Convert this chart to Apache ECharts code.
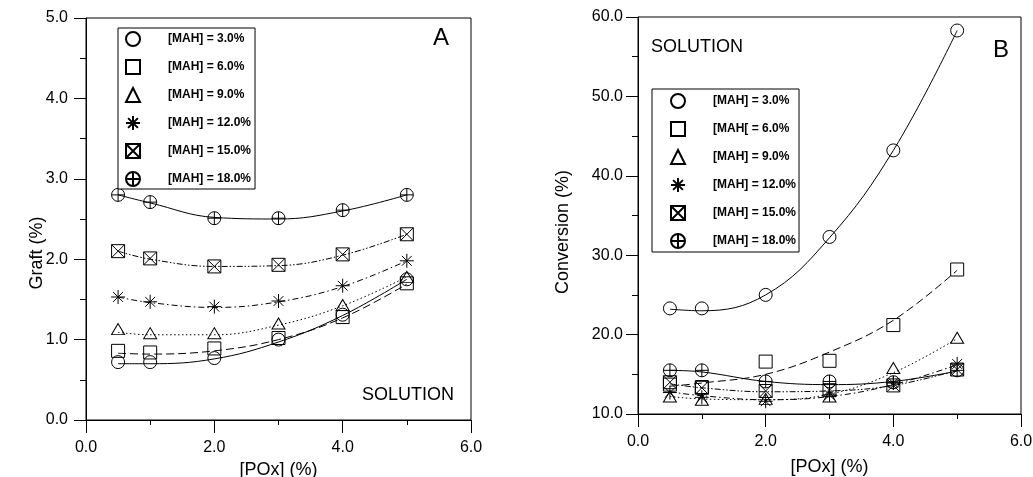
<!DOCTYPE html>
<html>
<head>
<meta charset="utf-8">
<script src="https://cdn.jsdelivr.net/npm/echarts@6/dist/echarts.min.js"></script>
<style>html,body{margin:0;padding:0;background:#fff;}#c{width:1033px;height:477px;}</style>
</head>
<body>
<div id="c"></div>
<script>
// ---- data ----
const poxValues = [0.5, 1, 2, 3, 4, 5];
const namesA = ['[MAH] = 3.0%', '[MAH] = 6.0%', '[MAH] = 9.0%', '[MAH] = 12.0%', '[MAH] = 15.0%', '[MAH] = 18.0%'];
const namesB = ['[MAH] = 3.0%', '[MAH[ = 6.0%', '[MAH] = 9.0%', '[MAH] = 12.0%', '[MAH] = 15.0%', '[MAH] = 18.0%'];

// Panel A: Graft (%) markers
const graft3  = [0.72, 0.72, 0.77, 1.00, 1.31, 1.75];
const graft6  = [0.86, 0.84, 0.89, 1.02, 1.28, 1.70];
const graft9  = [1.13, 1.08, 1.08, 1.20, 1.43, 1.78];
const graft12 = [1.53, 1.47, 1.41, 1.48, 1.67, 1.98];
const graft15 = [2.10, 2.01, 1.91, 1.93, 2.06, 2.31];
const graft18 = [2.80, 2.71, 2.51, 2.51, 2.61, 2.80];
// Panel A: fitted curves
const graftCurve3  = [0.70, 0.70, 0.76, 0.97, 1.30, 1.75];
const graftCurve6  = [0.83, 0.82, 0.86, 1.00, 1.27, 1.69];
const graftCurve9  = [1.09, 1.06, 1.06, 1.18, 1.42, 1.78];
const graftCurve12 = [1.53, 1.46, 1.40, 1.47, 1.66, 1.98];
const graftCurve15 = [2.10, 2.00, 1.91, 1.92, 2.05, 2.31];
const graftCurve18 = [2.80, 2.70, 2.52, 2.50, 2.60, 2.80];

// Panel B: Conversion (%) markers
const conv3  = [23.3, 23.3, 25.0, 32.3, 43.2, 58.3];
const conv6  = [13.7, 13.4, 16.6, 16.7, 21.2, 28.2];
const conv9  = [12.2, 11.8, 11.9, 12.2, 15.8, 19.6];
const conv12 = [12.7, 12.1, 11.6, 12.4, 13.9, 16.3];
const conv15 = [14.0, 13.3, 12.9, 13.0, 13.6, 15.6];
const conv18 = [15.5, 15.5, 14.1, 14.1, 14.0, 15.5];
// Panel B: fitted curves
const convCurve3  = [23.2, 23.0, 25.0, 32.2, 43.2, 58.3];
const convCurve6  = [13.5, 13.9, 15.0, 17.8, 21.8, 28.1];
const convCurve9  = [12.2, 11.9, 11.8, 12.5, 15.2, 19.5];
const convCurve12 = [12.8, 12.3, 11.8, 12.2, 13.7, 16.2];
const convCurve15 = [13.8, 13.3, 12.8, 12.9, 13.6, 15.5];
const convCurve18 = [15.5, 15.3, 14.1, 13.7, 14.1, 15.4];

const xTicks = [0, 2, 4, 6];
const graftTicks = [0, 1, 2, 3, 4, 5];
const convTicks = [10, 20, 30, 40, 50, 60];

// ---- styles ----
const FONT = "'Liberation Sans', Arial, sans-serif";
const symbols = [
  'circle',
  'rect',
  'triangle',
  'path://M5,0 L5,10 M0,5 L10,5 M1.5,1.5 L8.5,8.5 M8.5,1.5 L1.5,8.5',
  'path://M0,0 L10,0 L10,10 L0,10 Z M0,0 L10,10 M10,0 L0,10',
  'path://M0,5 A5,5 0 1,1 10,5 A5,5 0 1,1 0,5 Z M5,0 L5,10 M0,5 L10,5'
];
const symSizes = [13, 13, [13, 11], 14, 13, 13];
const lineTypes = ['solid', [8, 4], [1.5, 2.5], [6, 3, 1.5, 3], [6, 2, 1.5, 2, 1.5, 2], 'solid'];

const graftPts = [graft3, graft6, graft9, graft12, graft15, graft18];
const graftCurves = [graftCurve3, graftCurve6, graftCurve9, graftCurve12, graftCurve15, graftCurve18];
const convPts = [conv3, conv6, conv9, conv12, conv15, conv18];
const convCurves = [convCurve3, convCurve6, convCurve9, convCurve12, convCurve15, convCurve18];

function pairs(ys) { return poxValues.map((x, i) => [x, ys[i]]); }

const series = [];
function addPanel(idx, pts, curves, names) {
  for (let k = 0; k < 6; k++) {
    series.push({
      type: 'line', name: 'curve' + idx + '_' + k, xAxisIndex: idx, yAxisIndex: idx,
      data: pairs(curves[k]), smooth: 0.4, showSymbol: false, symbol: 'none', silent: true,
      lineStyle: { color: '#000', width: 1, type: lineTypes[k] }, z: 2
    });
  }
  for (let k = 0; k < 6; k++) {
    series.push({
      type: 'scatter', name: names[k], xAxisIndex: idx, yAxisIndex: idx,
      data: pairs(pts[k]), symbol: symbols[k], symbolSize: symSizes[k],
      itemStyle: { color: 'rgba(255,255,255,0)', borderColor: '#000', borderWidth: 1, opacity: 1 },
      z: 3
    });
  }
}
addPanel(0, graftPts, graftCurves, namesA);
addPanel(1, convPts, convCurves, namesB);

function xAxisCfg(gi, nameGap) {
  return {
    type: 'value', gridIndex: gi, min: xTicks[0], max: xTicks[xTicks.length - 1], interval: 2,
    name: '[POx] (%)', nameLocation: 'middle', nameGap: nameGap,
    nameTextStyle: { fontFamily: FONT, fontSize: 18, color: '#000' },
    axisLine: { show: true, onZero: false, lineStyle: { color: '#000', width: 1 } },
    axisTick: { show: true, inside: false, length: 13, lineStyle: { color: '#000' } },
    minorTick: { show: true, splitNumber: 2, length: 5, lineStyle: { color: '#000' } },
    axisLabel: { fontFamily: FONT, fontSize: 16, color: '#000', margin: 20, formatter: v => v.toFixed(1) },
    splitLine: { show: false }
  };
}
function yAxisCfg(gi, ticks, interval, margin) {
  return {
    type: 'value', gridIndex: gi, min: ticks[0], max: ticks[ticks.length - 1], interval: interval,
    axisLine: { show: true, onZero: false, lineStyle: { color: '#000', width: 1 } },
    axisTick: { show: true, inside: false, length: 12, lineStyle: { color: '#000' } },
    minorTick: { show: true, splitNumber: 2, length: 6, lineStyle: { color: '#000' } },
    axisLabel: { fontFamily: FONT, fontSize: 16, color: '#000', margin: margin, formatter: v => v.toFixed(1) },
    splitLine: { show: false }
  };
}

function legendCfg(names, left, top, pad) {
  return {
    data: names.map(n => ({ name: n })), orient: 'vertical', left: left, top: top,
    padding: pad, itemGap: 12, itemWidth: 14, itemHeight: 14,
    borderColor: '#000', borderWidth: 1, backgroundColor: '#fff',
    selectedMode: false,
    textStyle: { fontFamily: FONT, fontSize: 12, lineHeight: 14, fontWeight: 'bold', color: '#000', padding: [0, 0, 0, 23] }
  };
}

const option = {
  animation: false,
  backgroundColor: '#fff',
  grid: [
    { left: 86, top: 18, width: 385, height: 402, outerBoundsMode: 'none', containLabel: false, show: true, borderColor: '#000', borderWidth: 1, backgroundColor: 'transparent' },
    { left: 638, top: 17, width: 383, height: 397, outerBoundsMode: 'none', containLabel: false, show: true, borderColor: '#000', borderWidth: 1, backgroundColor: 'transparent' }
  ],
  xAxis: [xAxisCfg(0, 40), xAxisCfg(1, 44)],
  yAxis: [yAxisCfg(0, graftTicks, 1, 18), yAxisCfg(1, convTicks, 10, 15)],
  legend: [
    legendCfg(namesA, 118, 28, [3, 4, 2, 7]),
    legendCfg(namesB, 652, 89, [4, 3, 3, 18])
  ],
  graphic: [
    { type: 'text', x: 433, y: 38, style: { text: 'A', font: '24px ' + FONT, fill: '#000', verticalAlign: 'middle' } },
    { type: 'text', x: 362, y: 395, style: { text: 'SOLUTION', font: '18px ' + FONT, fill: '#000', verticalAlign: 'middle' } },
    { type: 'text', x: 651, y: 47, style: { text: 'SOLUTION', font: '18px ' + FONT, fill: '#000', verticalAlign: 'middle' } },
    { type: 'text', x: 993, y: 50, style: { text: 'B', font: '24px ' + FONT, fill: '#000', verticalAlign: 'middle' } },
    { type: 'text', x: 37, y: 253, rotation: Math.PI / 2, style: { text: 'Graft (%)', font: '18px ' + FONT, fill: '#000', align: 'center', verticalAlign: 'middle' } },
    { type: 'text', x: 563, y: 232, rotation: Math.PI / 2, style: { text: 'Conversion (%)', font: '18px ' + FONT, fill: '#000', align: 'center', verticalAlign: 'middle' } }
  ],
  series: series
};

const chart = echarts.init(document.getElementById('c'), null, { renderer: 'canvas' });
chart.setOption(option);
</script>
</body>
</html>
